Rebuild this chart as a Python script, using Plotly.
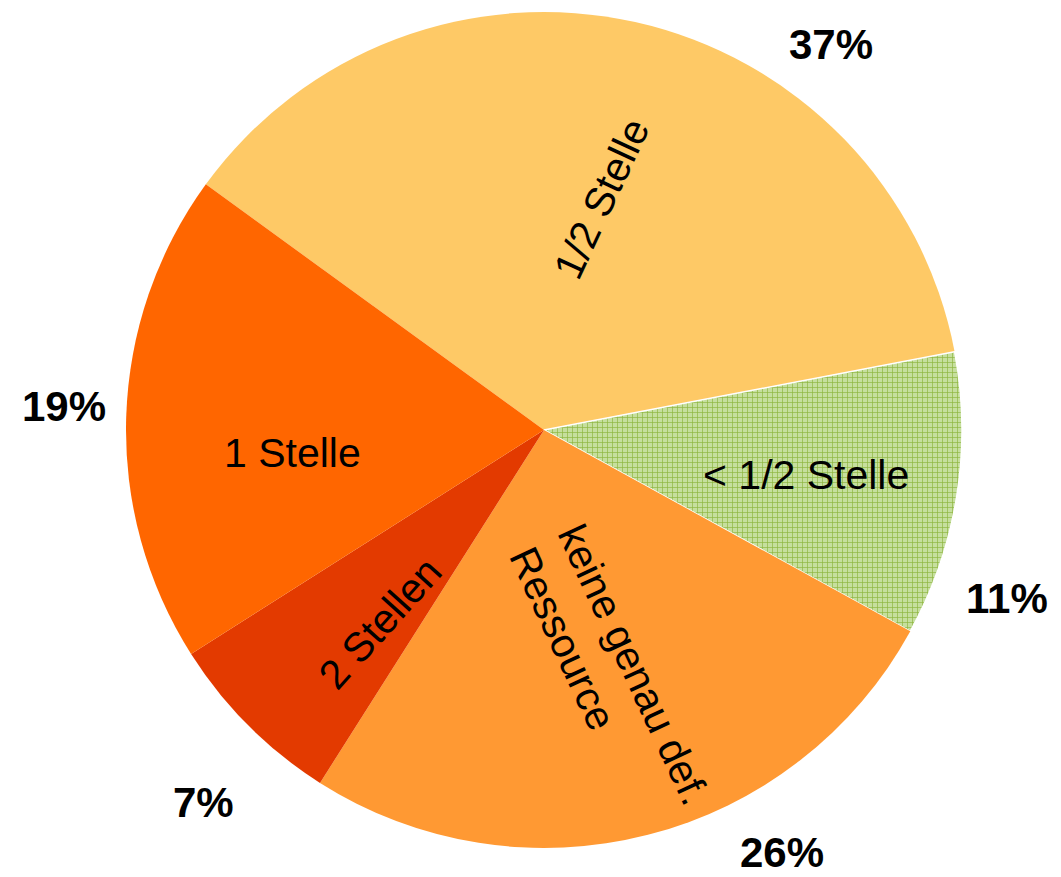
import math
import plotly.graph_objects as go

# Verteilung der Stellenanteile
categories = ["1/2 Stelle", "< 1/2 Stelle", "keine genau def.<br>Ressource", "2 Stellen", "1 Stelle"]
shares = [37, 11, 26, 7, 19]
pct_labels = ["37%", "11%", "26%", "7%", "19%"]

colors = ["#FEC966", "#C6DF9E", "#FF9933", "#E33A00", "#FF6600"]
line_widths = [0, 1.5, 0, 0, 0]
pattern_shapes = ["", "+", "", "", ""]

FONT = "Liberation Sans, Arial, sans-serif"
W, H = 1061, 877
cx, cy, R = 544, 430, 418          # pie centre and radius in pixels
ROTATION = -54                     # start angle of the first slice (clockwise from 12 o'clock)

dom_x = [(cx - R) / W, (cx + R) / W]
dom_y = [(H - cy - R) / H, (H - cy + R) / H]

fig = go.Figure()
fig.add_trace(go.Pie(
    values=shares,
    labels=categories,
    sort=False,
    direction="clockwise",
    rotation=ROTATION,
    domain=dict(x=dom_x, y=dom_y),
    marker=dict(
        colors=colors,
        line=dict(color="white", width=line_widths),
        pattern=dict(shape=pattern_shapes, fgcolor="#8DB63E", bgcolor="#C6DF9E",
                     size=5, solidity=0.25, fillmode="replace"),
    ),
    textinfo="none",
    showlegend=False,
    hoverinfo="label+percent",
))

# Beschriftungen: Lage aus dem Mittelwinkel jedes Segments berechnet
inner_nudge = [1.3, 0.7, -0.6, -4.6, -7.0]      # Winkelkorrektur der Innenbeschriftung (Grad)
inner_radius = [0.57, 0.636, 0.61, 0.605, 0.603]
inner_angle = [-65, 0, 65, -48, 0]              # Drehung des Textes
inner_align = ["center", "center", "left", "center", "center"]
outer_nudge = [24, 11, -15, -2.6, 1]
outer_radius = [1.15, 1.18, 1.16, 1.208, 1.15]


def polar_to_paper(angle_deg, r):
    a = math.radians(angle_deg)
    px = cx + r * math.sin(a)
    py = cy - r * math.cos(a)
    return px / W, 1 - py / H


total = sum(shares)
start = ROTATION
for i, v in enumerate(shares):
    span = 360 * v / total
    mid = start + span / 2
    start += span

    x, y = polar_to_paper(mid + inner_nudge[i], R * inner_radius[i])
    fig.add_annotation(
        x=x, y=y, xref="paper", yref="paper",
        text=categories[i], showarrow=False, textangle=inner_angle[i],
        font=dict(family=FONT, size=41, color="black"),
        xanchor="center", yanchor="middle", align=inner_align[i],
    )

    x, y = polar_to_paper(mid + outer_nudge[i], R * outer_radius[i])
    fig.add_annotation(
        x=x, y=y, xref="paper", yref="paper",
        text=f"<b>{pct_labels[i]}</b>", showarrow=False,
        font=dict(family=FONT, size=42, color="black"),
        xanchor="center", yanchor="middle",
    )

fig.update_layout(
    width=W, height=H,
    margin=dict(l=0, r=0, t=0, b=0),
    paper_bgcolor="white",
    plot_bgcolor="white",
)

fig.write_html("out.html")
